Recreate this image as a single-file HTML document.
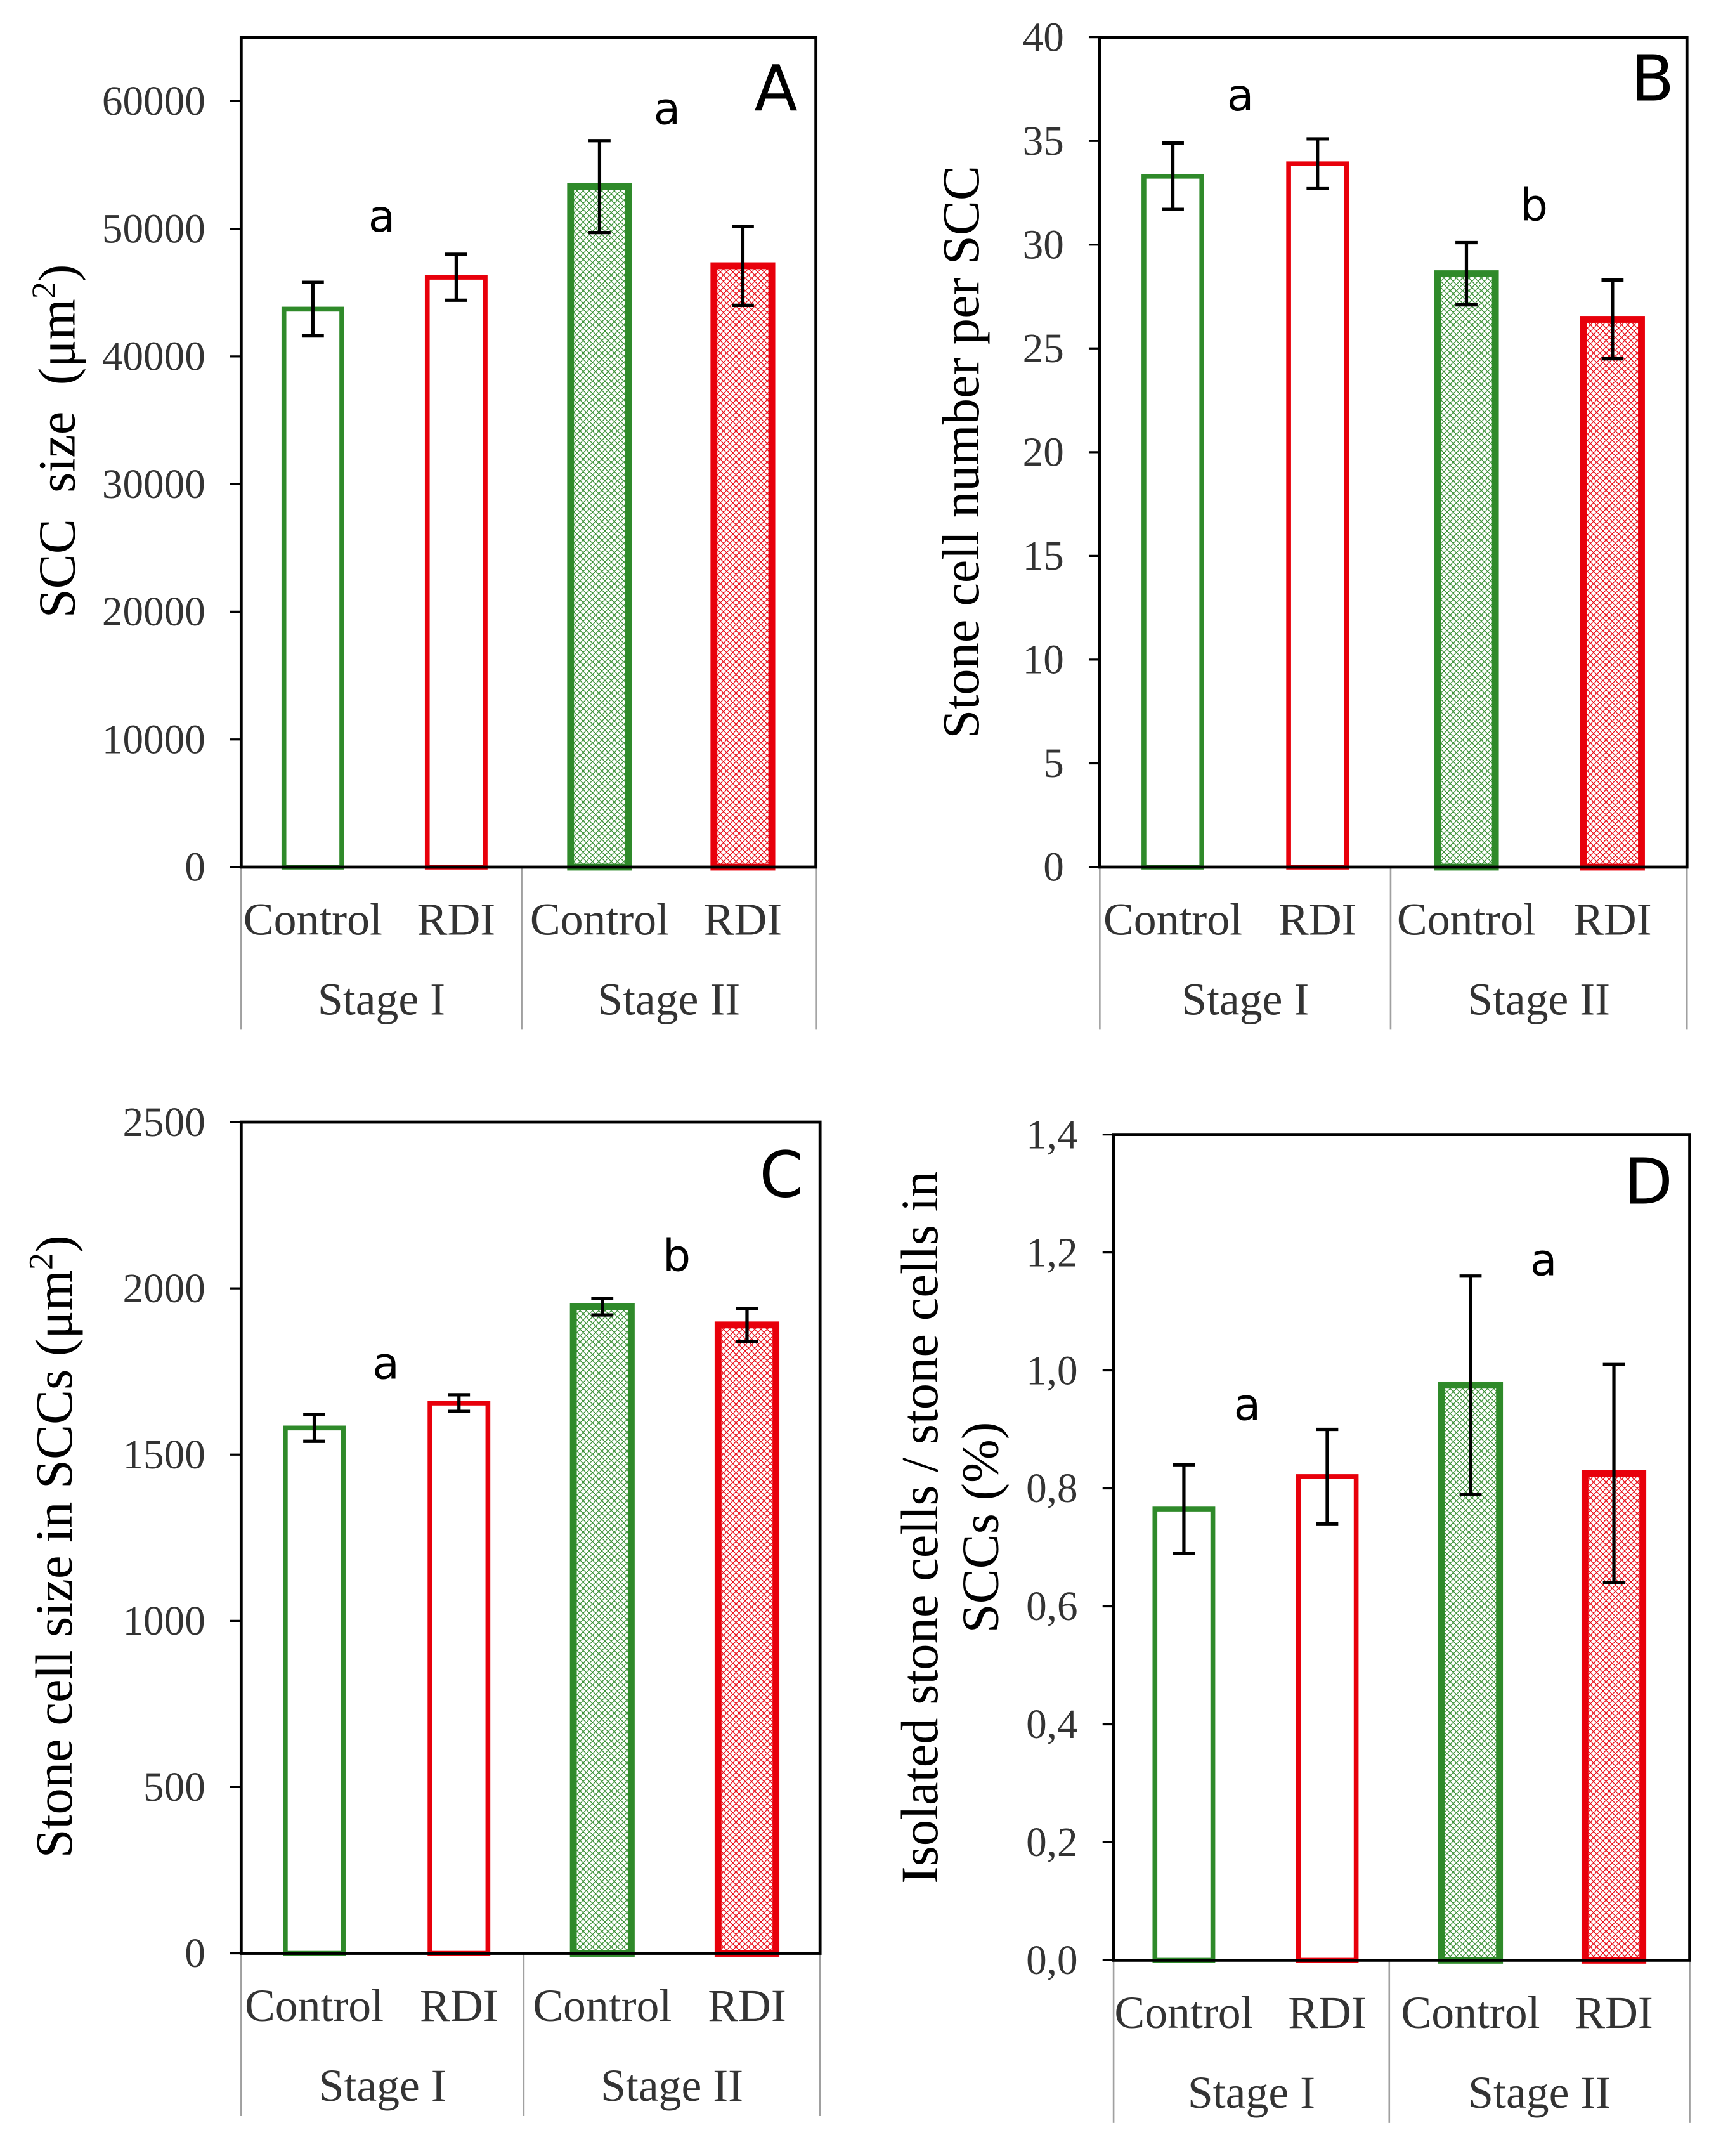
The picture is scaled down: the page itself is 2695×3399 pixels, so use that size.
<!DOCTYPE html>
<html><head><meta charset="utf-8"><style>
html,body{margin:0;padding:0;background:#fff;}
svg{display:block;}
</style></head><body>
<svg id="fig" xmlns="http://www.w3.org/2000/svg" width="2695" height="3399" viewBox="0 0 1240 1564" preserveAspectRatio="none">
<defs>
<pattern id="pg" width="3.2" height="3.2" patternUnits="userSpaceOnUse" patternTransform="rotate(45)">
<rect width="3.2" height="3.2" fill="#fff"/><path d="M0 0H3.2M0 0V3.2" stroke="#2f8a2a" stroke-width="1.1"/></pattern>
<pattern id="pr" width="3.2" height="3.2" patternUnits="userSpaceOnUse" patternTransform="rotate(45)">
<rect width="3.2" height="3.2" fill="#fff"/><path d="M0 0H3.2M0 0V3.2" stroke="#e8000b" stroke-width="1.1"/></pattern>
</defs>
</svg>
<script>
// Panel A
const catsA=["Control","RDI","Control","RDI"];
const valsA=[43700,46200,53300,47100];
const errA=[2100,1800,3600,3100];
const ticksA=["0","10000","20000","30000","40000","50000","60000"];
// Panel B
const valsB=[33.3,33.9,28.6,26.4];
const errB=[1.6,1.2,1.5,1.9];
const ticksB=["0","5","10","15","20","25","30","35","40"];
// Panel C
const valsC=[1580,1655,1945,1890];
const errC=[40,25,25,50];
const ticksC=["0","500","1000","1500","2000","2500"];
// Panel D
const valsD=[0.765,0.82,0.975,0.825];
const errD=[0.075,0.08,0.185,0.185];
const ticksD=["0,0","0,2","0,4","0,6","0,8","1,0","1,2","1,4"];
const stages=["Stage I","Stage II"];

const NS="http://www.w3.org/2000/svg";
const svg=document.getElementById('fig');
function mk(tag,attrs,parent,text){const e=document.createElementNS(NS,tag);for(const k in attrs)e.setAttribute(k,attrs[k]);if(text!==undefined)e.textContent=text;(parent||svg).appendChild(e);return e;}

const panels=[
 {id:"a",vals:valsA,err:errA,ticks:ticksA,max:65000,step:10000,L:175,R:592,T:27,B:629,catB:747,
  bars:[206,310,414,518],bw:42,letters:[["a",277,168],["a",484,90]],pl:["A",563,80],
  ylab:["SCC\u00a0\u00a0size\u00a0\u00a0(μm","2",")"],ylx:54,yly:320},
 {id:"b",vals:valsB,err:errB,ticks:ticksB,max:40,step:5,L:798,R:1224,T:27,B:629,catB:747,
  bars:[830,935,1043,1149],bw:42,letters:[["a",900,80],["b",1113,160]],pl:["B",1199,73],
  ylab:["Stone cell number per SCC"],ylx:710,yly:328},
 {id:"c",vals:valsC,err:errC,ticks:ticksC,max:2500,step:500,L:175,R:595,T:814,B:1417,catB:1535,
  bars:[207,312,416,521],bw:42,letters:[["a",280,1000],["b",491,922]],pl:["C",567,868],
  ylab:["Stone cell size in SCCs (μm","2",")"],ylx:52,yly:1122},
 {id:"d",vals:valsD,err:errD,ticks:ticksD,max:1.4,step:0.2,L:808,R:1226,T:823,B:1422,catB:1540,
  bars:[838,942,1046,1150],bw:42,letters:[["a",905,1030],["a",1120,925]],pl:["D",1196,873],
  ylab:null,ylx:0,yly:0}
];

panels.forEach(p=>{
 const g=mk('g',{});
 
 
 const y=v=>p.B-(v/p.max)*(p.B-p.T);
 const mid=(p.L+p.R)/2+ (p.id==="a"?-5:p.id==="c"?-5:p.id==="d"?-9:-2);
 [p.L,mid,p.R].forEach(x=>{const l=mk('line',{x1:x,y1:p.B,x2:x,y2:p.catB,stroke:'#a0a0a0','stroke-width':1.2},g);
  });
 p.ticks.forEach((t,i)=>{const yy=y(i*p.step);
  const tk=mk('line',{x1:p.L-8,y1:yy,x2:p.L,y2:yy,stroke:'#000','stroke-width':1.5},g);
  
  const tl=mk('text',{x:p.L-26,y:yy+10,'text-anchor':'end','font-family':'Liberation Serif, serif','font-size':30,fill:'#333'},g,t);
  });
 p.vals.forEach((v,i)=>{const x=p.bars[i];const green=i%2===0;const st2=i>=2;
  const col=green?'#2f8a2a':'#e8000b';
  const sw=st2?5:3.5;
  const r=mk('rect',{x:x,y:y(v),width:p.bw,height:p.B-y(v),fill:st2?(green?'url(#pg)':'url(#pr)'):'#fff',stroke:col,'stroke-width':sw},g);
  
  
  const cx=x+p.bw/2,e=p.err[i];
  const eb=mk('path',{d:`M${cx} ${y(v+e)}V${y(v-e)}M${cx-8} ${y(v+e)}H${cx+8}M${cx-8} ${y(v-e)}H${cx+8}`,stroke:'#000','stroke-width':2.4,fill:'none'},g);
  
  const cl=mk('text',{x:cx,y:p.B+49,'text-anchor':'middle','font-family':'Liberation Serif, serif','font-size':33,fill:'#333'},g,catsA[i]);
  
 });
 [[ (p.L+mid)/2, stages[0]],[ (mid+p.R)/2, stages[1]]].forEach(s=>{
  const sl=mk('text',{x:s[0],y:p.B+107,'text-anchor':'middle','font-family':'Liberation Serif, serif','font-size':33,fill:'#333'},g,s[1]);
  });
 const fr=mk('rect',{x:p.L,y:p.T,width:p.R-p.L,height:p.B-p.T,fill:'none',stroke:'#000','stroke-width':2.2},g);
 
 p.letters.forEach(l=>{const t=mk('text',{x:l[1],y:l[2],'text-anchor':'middle','font-family':'DejaVu Sans, sans-serif','font-size':32,fill:'#000'},g,l[0]);
  });
 const pl=mk('text',{x:p.pl[1],y:p.pl[2],'text-anchor':'middle','font-family':'DejaVu Sans, sans-serif','font-size':46,fill:'#000'},g,p.pl[0]);
 
 if(p.ylab){const t=mk('text',{x:p.ylx,y:p.yly,'text-anchor':'middle','font-family':'Liberation Serif, serif','font-size':38,fill:'#000',transform:`rotate(-90 ${p.ylx} ${p.yly})`},g);
  
  mk('tspan',{},t,p.ylab[0]);
  if(p.ylab.length>1){mk('tspan',{dy:-14,'font-size':25},t,p.ylab[1]);mk('tspan',{dy:14},t,p.ylab[2]);}
 }else{
  const t1=mk('text',{x:680,y:1108,'text-anchor':'middle','font-family':'Liberation Serif, serif','font-size':38,fill:'#000',transform:'rotate(-90 680 1108)'},g,'Isolated stone cells / stone cells in');
  
  const t2=mk('text',{x:724,y:1108,'text-anchor':'middle','font-family':'Liberation Serif, serif','font-size':38,fill:'#000',transform:'rotate(-90 724 1108)'},g,'SCCs (%)');
  
 }
});
</script>
</body></html>
